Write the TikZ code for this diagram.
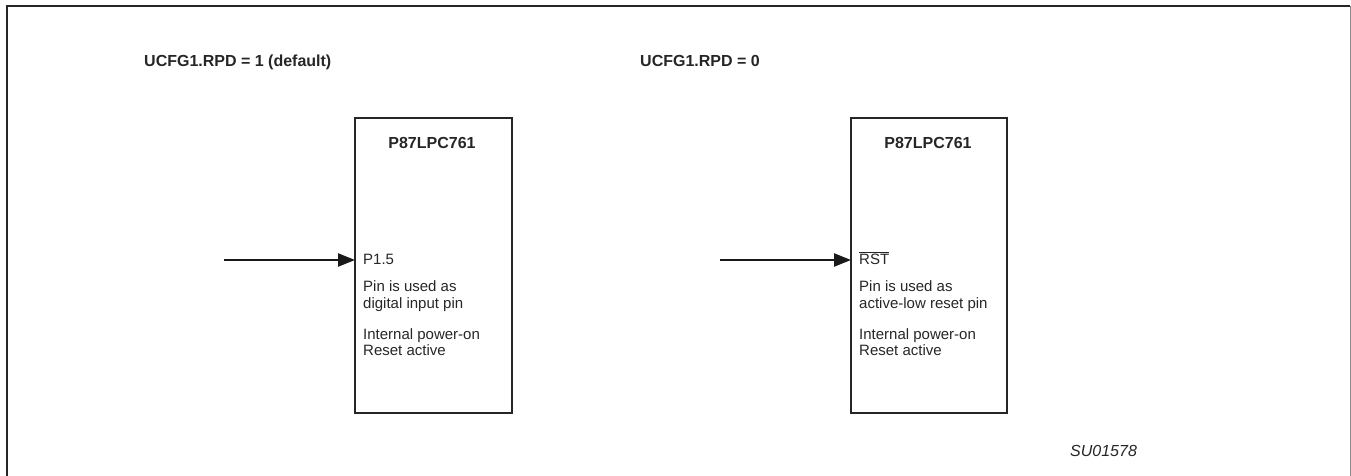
\documentclass[tikz,border=0pt]{standalone}
\usepackage{fontspec}
\setmainfont{Liberation Sans}
\usetikzlibrary{arrows.meta}
\begin{document}
\begin{tikzpicture}[x=1pt,y=-1pt,
  chip/.style={draw=black!85,line width=2pt},
  lbl/.style={anchor=base west,inner sep=0pt,font=\fontsize{15}{17}\selectfont,text=black!85},
  head/.style={anchor=base west,inner sep=0pt,font=\bfseries\fontsize{16}{18}\selectfont,text=black!85},
  title/.style={anchor=base,inner sep=0pt,font=\bfseries\fontsize{16}{18}\selectfont,text=black!85},
  pin/.style={line width=2.3pt,draw=black!90,-{Triangle[length=17pt,width=13pt]}}]
\useasboundingbox (0,0) rectangle (1351,476);
\clip (0,0) rectangle (1351,476);
% frame
\draw[line width=2.5pt,black!85] (7,480) -- (7,6) -- (1350,6);
\draw[line width=1pt,black!45] (1350,6) -- (1350,480);
% headings
\node[head] (h1) at (144,67) {UCFG1.RPD = 1 (default)};
\node[head] (h2) at (640,67) {UCFG1.RPD = 0};
% chips
\draw[chip] (355,118) rectangle (512,413);
\node[title] (c1) at (432,148) {P87LPC761};
\draw[chip] (851,118) rectangle (1007,413);
\node[title] (c2) at (928,148) {P87LPC761};
\coordinate (p1) at (355,260);
\coordinate (p2) at (851,260);
\coordinate (s1) at (224,260);
\coordinate (s2) at (720,260);
\draw[pin] (s1) -- (p1);
\draw[pin] (s2) -- (p2);
% texts
\node[lbl] (t1) at (363,264) {P1.5};
\node[lbl] (t2) at (363,291) {Pin is used as};
\node[lbl] (t3) at (363,308) {digital input pin};
\node[lbl] (t4) at (363,339) {Internal power-on};
\node[lbl] (t5) at (363,355) {Reset active};
\node[lbl] (u1) at (859,264) {$\overline{\mbox{RST}}$};
\node[lbl] (u2) at (859,291) {Pin is used as};
\node[lbl] (u3) at (859,308) {active-low reset pin};
\node[lbl] (u4) at (859,339) {Internal power-on};
\node[lbl] (u5) at (859,355) {Reset active};
\node[lbl,font=\itshape\fontsize{16}{18}\selectfont] (id) at (1070,456) {SU01578};
\end{tikzpicture}
\end{document}
